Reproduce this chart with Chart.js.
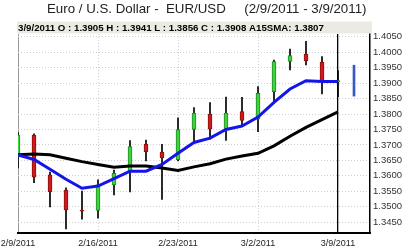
<!DOCTYPE html>
<html><head><meta charset="utf-8">
<script src="https://cdn.jsdelivr.net/npm/chart.js@4.4.1/dist/chart.umd.min.js"></script>
<style>html,body{margin:0;padding:0;background:#fff;overflow:hidden}#wrap{position:relative;width:404px;height:251px}</style>
</head><body><div id="wrap"><canvas id="c" width="404" height="251"></canvas></div>
<script>
// ---- data ----
const dateLabels = ['2/9/2011','2/16/2011','2/23/2011','3/2/2011','3/9/2011'];
const dateIndex  = [0,5,10,15,20];
const openV  = [1.3661,1.3732,1.3603,1.3554,1.3489,1.3488,1.3571,1.3617,1.3703,1.3677,1.3652,1.3750,1.3800,1.3749,1.3808,1.3783,1.3872,1.3970,1.3994,1.3967,1.3905];
const highV  = [1.3740,1.3736,1.3612,1.3561,1.3551,1.3587,1.3619,1.3714,1.3716,1.3702,1.3788,1.3821,1.3837,1.3855,1.3854,1.3889,1.3975,1.4010,1.4035,1.3986,1.3941];
const lowV   = [1.3626,1.3578,1.3499,1.3428,1.3460,1.3463,1.3538,1.3548,1.3648,1.3524,1.3648,1.3713,1.3719,1.3715,1.3761,1.3743,1.3842,1.3943,1.3959,1.3865,1.3856];
const closeV = [1.3732,1.3596,1.3549,1.3490,1.3486,1.3571,1.3608,1.3695,1.3678,1.3658,1.3750,1.3803,1.3751,1.3803,1.3779,1.3867,1.3970,1.3989,1.3972,1.3909,1.3908];
const fastMA = [1.3668,1.3653,1.3621,1.3589,1.3560,1.3567,1.3591,1.3615,1.3615,1.3637,1.3673,1.3708,1.3722,1.3750,1.3761,1.3790,1.3838,1.3881,1.3908,1.3905,1.3905];
const sma15  = [1.3668,1.3671,1.3668,1.3657,1.3646,1.3637,1.3628,1.3632,1.3632,1.3625,1.3617,1.3629,1.3639,1.3654,1.3664,1.3673,1.3697,1.3728,1.3757,1.3782,1.3807];
const forecastIndex = 21;
const forecastRange = [1.3858, 1.3958];
const yTickValues = [1.3450,1.3500,1.3550,1.3600,1.3650,1.3700,1.3750,1.3800,1.3850,1.3900,1.3950,1.4000,1.4050];
const titleText = 'Euro / U.S. Dollar -  EUR/USD     (2/9/2011 - 3/9/2011)';
const infoText  = '3/9/2011 O : 1.3905 H : 1.3941 L : 1.3856 C : 1.3908 A15SMA: 1.3807';

// ---- build ----
const idx = openV.map((_, i) => i);
const up = idx.map(i => closeV[i] >= openV[i]);
const wickData = idx.map(i => ({x: i, y: [lowV[i], highV[i]]}));
const bodyData = idx.map(i => ({x: i, y: [openV[i], closeV[i]]}));

const deco = {
  id: 'deco',
  afterDraw(chart) {
    const ctx = chart.ctx, a = chart.chartArea;
    ctx.save();
    ctx.fillStyle = '#ecebe3';
    ctx.fillRect(a.left - 1, 21.5, a.right - a.left + 3, 12);
    ctx.fillStyle = '#000';
    ctx.font = 'bold 9.7px "Liberation Sans", Arial, sans-serif';
    ctx.textBaseline = 'middle';
    ctx.textAlign = 'left';
    ctx.fillText(infoText, 18, 28);
    ctx.fillStyle = '#222';
    ctx.font = '13.3px "Liberation Sans", Arial, sans-serif';
    ctx.fillText(titleText, 47, 9);
    ctx.restore();
  }
};

new Chart(document.getElementById('c'), {
  type: 'bar',
  data: {
    datasets: [
      { type: 'line', data: idx.map(i => ({x: i, y: fastMA[i]})), borderColor: '#1515e8', borderWidth: 3, pointRadius: 0, tension: 0, order: 0, clip: 0 },
      { type: 'line', data: idx.map(i => ({x: i, y: sma15[i]})), borderColor: '#000', borderWidth: 3, pointRadius: 0, tension: 0, order: 1, clip: 0 },
      { data: bodyData, backgroundColor: up.map(u => u ? '#3fd43f' : '#d41818'), borderColor: up.map(u => u ? '#1f8a1f' : '#8a1010'), borderWidth: 1, borderSkipped: false, barThickness: 4, minBarLength: 1, grouped: false, order: 2, clip: 0 },
      { data: wickData, backgroundColor: '#000', barThickness: 1, grouped: false, order: 3, clip: 0 },
      { data: [{x: forecastIndex, y: forecastRange}], backgroundColor: '#3a58c4', barThickness: 2, grouped: false, order: 3, clip: 0 }
    ]
  },
  options: {
    responsive: false, animation: false, devicePixelRatio: 1,
    layout: { padding: { left: 18, top: 34, right: 0, bottom: 0 } },
    plugins: { legend: { display: false }, tooltip: { enabled: false }, title: { display: false } },
    scales: {
      x: {
        type: 'linear', min: 0, max: 22, offset: false,
        afterBuildTicks: s => { s.ticks = dateIndex.map(v => ({value: v})); },
        afterFit: s => { s.height = 18; s.paddingLeft = 0; s.paddingRight = 0; },
        ticks: { autoSkip: false, maxRotation: 0, padding: 5, color: '#222', font: { size: 9, family: '"Liberation Sans", Arial, sans-serif' },
          callback: (v, i) => dateLabels[i] },
        grid: { offset: false, drawTicks: false,
          color: c => { const v = c.tick && c.tick.value; return v === 0 ? '#9a9a9a' : (v === 20 ? '#000' : '#cfcfcf'); },
          lineWidth: c => (c.tick && c.tick.value === 20) ? 1.3 : 1 },
        border: { display: true, color: '#000', width: 2,
          dash: c => { const v = c.tick && c.tick.value; return (v === 0 || v === 20) ? [] : [1, 2]; } }
      },
      y: {
        type: 'linear', position: 'right', min: 1.3415, max: 1.4059,
        afterBuildTicks: s => { s.ticks = yTickValues.map(v => ({value: v})); },
        afterFit: s => { s.width = 34; s.paddingTop = 0; s.paddingBottom = 0; },
        ticks: { padding: 3, color: '#333', font: { size: 9.5, family: '"Liberation Sans", Arial, sans-serif' },
          callback: v => Number(v).toFixed(4) },
        grid: { drawTicks: false, color: '#cfcfcf' },
        border: { display: true, color: '#000', width: 1.5, dash: [1, 2] }
      }
    }
  },
  plugins: [deco]
});
</script></body></html>
